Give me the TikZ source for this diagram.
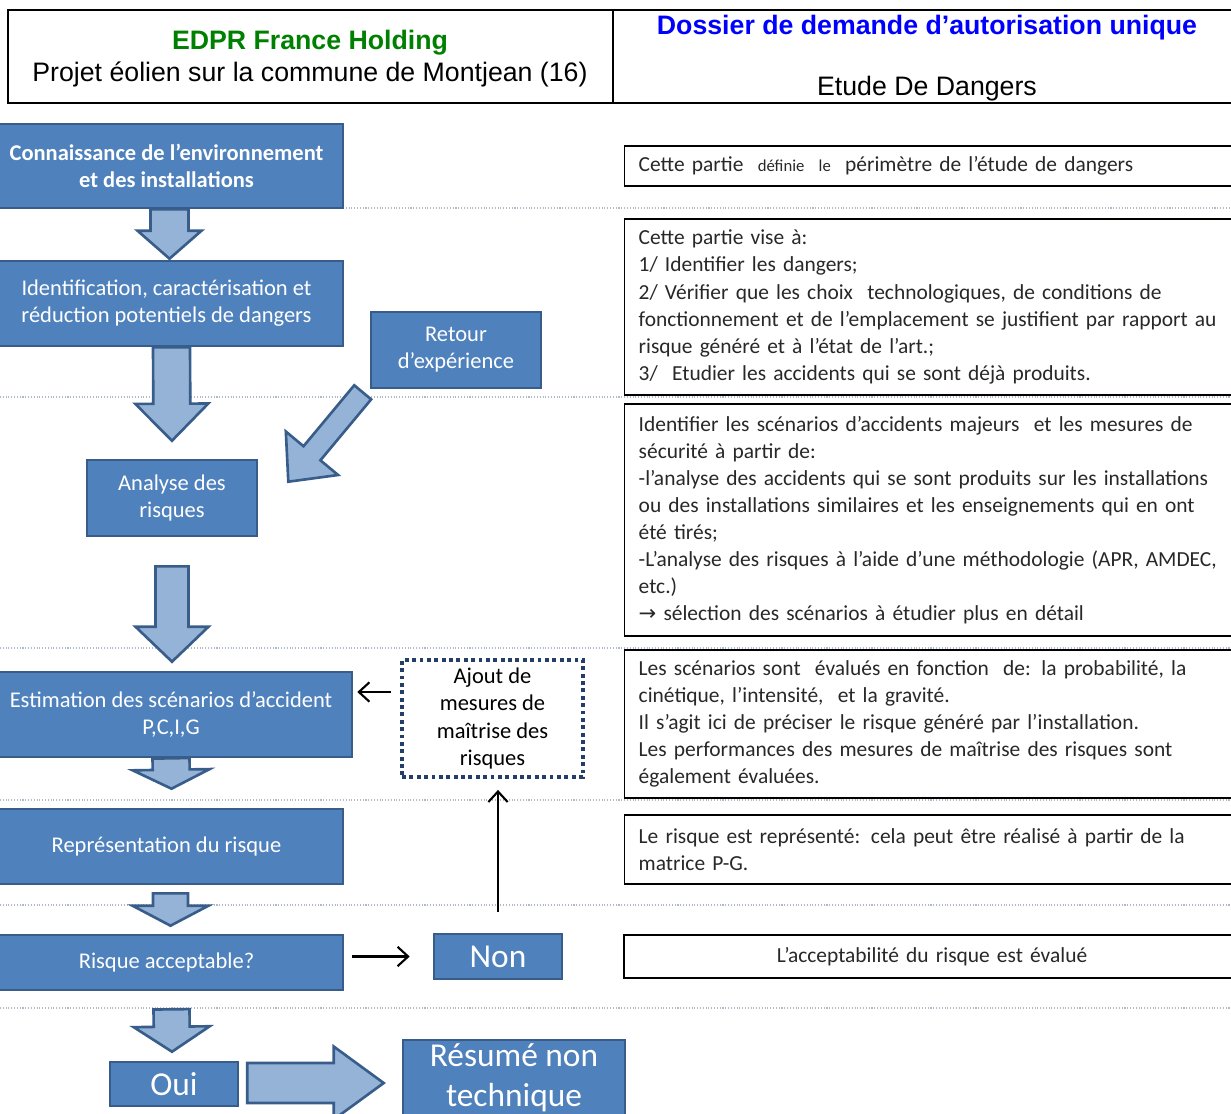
\documentclass[tikz,border=0pt]{standalone}
\usepackage{fontspec}
\setmainfont{Carlito}
\newfontfamily\headfont{Liberation Sans}
\newfontfamily\symfont{DejaVu Sans}
\usetikzlibrary{calc,arrows.meta}
\definecolor{boxblue}{RGB}{79,129,189}
\definecolor{boxedge}{RGB}{56,93,138}
\definecolor{dotedge}{RGB}{35,62,105}
\definecolor{arrowblue}{RGB}{149,179,215}
\definecolor{sepgray}{RGB}{175,185,200}
\definecolor{notegray}{RGB}{40,40,40}
\definecolor{edprgreen}{RGB}{0,128,0}
\definecolor{titleblue}{RGB}{0,0,255}
\newcommand{\blkarrow}[5]{%
  \coordinate (ba) at #1;
  \coordinate (bb) at #2;
  \coordinate (bc) at ($(bb)!#5!(ba)$);
  \draw [blk] ($(ba)!#3!90:(bb)$) -- ($(bc)!#3!90:(bb)$) -- ($(bc)!#4!90:(bb)$)
    -- (bb) -- ($(bc)!#4!-90:(bb)$) -- ($(bc)!#3!-90:(bb)$) -- ($(ba)!#3!-90:(bb)$) -- cycle;
}

\begin{document}
\begin{tikzpicture}[
  x=0.02cm, y=-0.02cm,
  box/.style={draw=boxedge, line width=1.5pt, fill=boxblue, text=white, align=center,
    inner sep=0pt, font=\fontsize{12.8}{15.4}\selectfont},
  bigbox/.style={box, font=\fontsize{19}{22.7}\selectfont},
  note/.style={draw=black, line width=0.8pt, fill=white, text=notegray, align=left,
    inner xsep=0.28cm, inner ysep=0pt, font=\fontsize{12.2}{15.4}\selectfont},
  blk/.style={draw=boxedge, fill=arrowblue, line width=1.5pt, line join=miter},
  arr/.style={line width=1.2pt, -{Straight Barb[length=6pt, width=11pt]}},
  sep/.style={sepgray, densely dotted, line width=0.6pt}
]
\useasboundingbox (0,0) rectangle (1231,1113);
\draw [line width=1.2pt] (8,10) rectangle (1245,103);
\draw [line width=1.2pt] (613,10) -- (613,103);
\node [font=\headfont\fontsize{15.2}{17}\bfseries, text=edprgreen] (holding) at (310,43) {EDPR France Holding};
\node [font=\headfont\fontsize{15.2}{17}\selectfont] (projet) at (310,74) {Projet éolien sur la commune de Montjean (16)};
\node [font=\headfont\fontsize{15.2}{17}\bfseries, text=titleblue] (dossier) at (927,28) {Dossier de demande d’autorisation unique};
\node [font=\headfont\fontsize{15.2}{17}\selectfont] (etude) at (927,89) {Etude De Dangers};
\draw [sep] (343,208) -- (1231,208);
\foreach \ys in {397,648,800,905,1008}
  \draw [sep] (0,\ys) -- (1231,\ys);
\node [box, minimum width=7.06cm, minimum height=1.68cm, font=\fontsize{12.8}{15.4}\bfseries] (conn) at (166.5,166)
  {Connaissance de l’environnement\\et des installations};
\node [box, minimum width=7.06cm, minimum height=1.70cm] (ident) at (166.5,303.5)
  {Identification, caractérisation et\\réduction potentiels de dangers};
\node [box, minimum width=3.4cm, minimum height=1.52cm] (retour) at (456,350) {Retour\\d’expérience};
\node [box, minimum width=3.4cm, minimum height=1.52cm] (analyse) at (172,498) {Analyse des\\risques};
\node [box, minimum width=7.24cm, minimum height=1.70cm] (estim) at (171,714.5)
  {Estimation des scénarios d’accident\\P,C,I,G};
\node [draw=dotedge, line width=2.2pt, dash pattern=on 2.2pt off 2pt, fill=white, align=center,
  minimum width=3.62cm, minimum height=2.34cm, inner sep=0pt, font=\fontsize{12.8}{15.4}\selectfont] (ajout)
  at (492.5,718.5) {Ajout de\\mesures de\\maîtrise des\\risques};
\node [box, minimum width=7.06cm, minimum height=1.5cm] (repr) at (166.5,846.5) {Représentation du risque};
\node [box, minimum width=7.06cm, minimum height=1.1cm] (risque) at (166.5,962.5) {Risque acceptable?};
\node [bigbox, minimum width=2.56cm, minimum height=0.9cm] (non) at (498,956.5) {Non};
\node [bigbox, minimum width=2.56cm, minimum height=0.88cm] (oui) at (174,1084) {Oui};
\node [bigbox, minimum width=4.44cm, minimum height=1.52cm] (resume) at (514,1078) {Résumé non\\technique};
\node [note, anchor=west, text width=14cm, minimum height=0.8cm] (perimetre) at (624,166)
  {Cette partie\ \ {\fontsize{9.5}{10}\selectfont définie\ \ le}\ \ périmètre de l’étude de dangers};
\node [note, anchor=west, text width=14cm, minimum height=3.52cm] (vise) at (624,307)
  {Cette partie vise à:\\
   1/ Identifier les dangers;\\
   2/ Vérifier que les choix\ \ technologiques, de conditions de\\
   fonctionnement et de l’emplacement se justifient par rapport au\\
   risque généré et à l’état de l’art.;\\
   3/\ \ Etudier les accidents qui se sont déjà produits.};
\node [note, anchor=west, text width=14cm, minimum height=4.64cm] (scenarios) at (624,520)
  {Identifier les scénarios d’accidents majeurs\ \ et les mesures de\\
   sécurité à partir de:\\
   -l’analyse des accidents qui se sont produits sur les installations\\
   ou des installations similaires et les enseignements qui en ont\\
   été tirés;\\
   -L’analyse des risques à l’aide d’une méthodologie (APR, AMDEC,\\
   etc.)\\
   {\symfont\fontsize{12}{15.4}\selectfont →} sélection des scénarios à étudier plus en détail};
\node [note, anchor=west, text width=14cm, minimum height=2.96cm] (evalues) at (624,724)
  {Les scénarios sont\ \ évalués en fonction\ \ de: la probabilité, la\\
   cinétique, l’intensité,\ \ et la gravité.\\
   Il s’agit ici de préciser le risque généré par l’installation.\\
   Les performances des mesures de maîtrise des risques sont\\
   également évaluées.};
\node [note, anchor=west, text width=14cm, minimum height=1.38cm] (represente) at (624,849.5)
  {Le risque est représenté: cela peut être réalisé à partir de la\\
   matrice P-G.};
\node [note, align=center, text width=11.76cm, minimum height=0.86cm] (accept) at (932,956.5)
  {L’acceptabilité du risque est évalué};
\blkarrow{([shift={(3,0)}]conn.south)}{([shift={(3,-1)}]ident.north)}{0.38cm}{0.64cm}{0.56cm}
\blkarrow{([shift={(5,0)}]ident.south)}{([shift={(0,-18)}]analyse.north)}{0.37cm}{0.73cm}{0.74cm}
\blkarrow{([shift={(-7,3)}]retour.south west)}{([shift={(30,23)}]analyse.north east)}{0.22cm}{0.68cm}{0.74cm}
\blkarrow{([shift={(0,29)}]analyse.south)}{([shift={(1,-9)}]estim.north)}{0.33cm}{0.73cm}{0.70cm}
\blkarrow{([shift={(0,0)}]estim.south)}{([shift={(5,-19)}]repr.north)}{0.37cm}{0.77cm}{0.38cm}
\blkarrow{([shift={(4,8)}]repr.south)}{([shift={(4,-8)}]risque.north)}{0.35cm}{0.76cm}{0.40cm}
\blkarrow{([shift={(5,18)}]risque.south)}{([shift={(-2,-9)}]oui.north)}{0.36cm}{0.76cm}{0.50cm}
\blkarrow{([shift={(8,-1)}]oui.east)}{([shift={(-18,5)}]resume.west)}{0.40cm}{0.73cm}{1.0cm}
\draw [arr] ([shift={(-9,-26.5)}]ajout.west) -- ([shift={(4,-22.5)}]estim.east);
\coordinate (nonfoot) at (non.north |- ajout.south);
\draw [arr] ([shift={(0,-21)}]non.north) -- ([shift={(0,11)}]nonfoot);
\coordinate (risqueside) at (risque.east |- non.west);
\draw [arr] ([shift={(8,0)}]risqueside) -- ([shift={(-23,0)}]non.west);
\end{tikzpicture}
\end{document}
